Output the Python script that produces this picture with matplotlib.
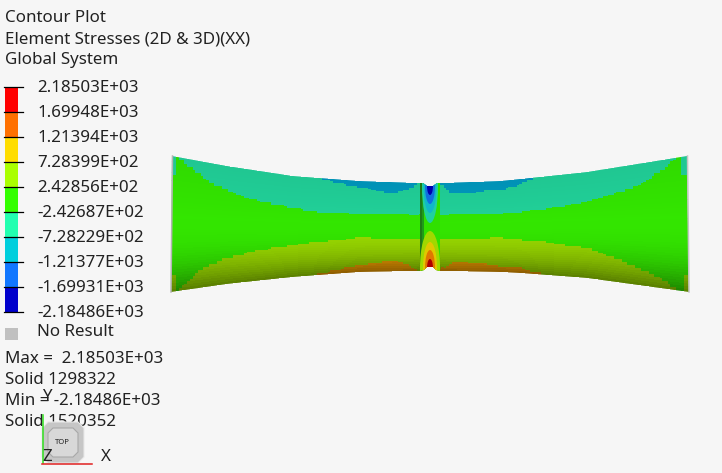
import numpy as np
import matplotlib
matplotlib.use("Agg")
import matplotlib.pyplot as plt
from matplotlib.patches import Ellipse, Polygon, Rectangle

plt.rcParams['font.family'] = ['Noto Sans', 'DejaVu Sans']

header = ["Contour Plot", "Element Stresses (2D & 3D)(XX)", "Global System"]
levels = ["2.18503E+03", "1.69948E+03", "1.21394E+03", "7.28399E+02", "2.42856E+02",
          "-2.42687E+02", "-7.28229E+02", "-1.21377E+03", "-1.69931E+03", "-2.18486E+03"]
legend_colors = ["#ff0000", "#ff7000", "#ffdd00", "#aaff00", "#33ff00",
                 "#22ffb0", "#00cfdd", "#1177ff", "#0000cc"]
footer = ["Max =  2.18503E+03", "Solid 1298322", "Min = -2.18486E+03", "Solid 1520352"]

# outline of the part, screen pixels
top_x = [172, 227, 293, 360, 420, 423, 427, 433, 437, 440, 500, 520, 587, 687]
top_y = [156, 166, 176, 181, 183, 183, 186, 186, 183, 183, 181, 179, 172, 156]
bot_x = [171, 227, 293, 360, 420, 424, 427, 433, 436, 440, 500, 520, 587, 689]
bot_y = [292, 284, 277, 272, 271, 270, 267, 267, 270, 271, 272, 273, 278, 292]

# band boundaries along the part
blue_x = [317, 360, 393, 413, 417, 443, 450, 477, 500, 520, 533]
blue_y = [178, 188, 193, 188, 183, 185, 193, 192, 190, 185, 178]
teal_x = [177, 193, 210, 243, 277, 317, 360, 417, 443, 500, 520, 553, 587, 620, 643, 660, 677, 682]
teal_y = [156, 170, 183, 197, 205, 212, 214, 215, 215, 213, 212, 208, 202, 192, 183, 172, 158, 156]
green_x = [180, 192, 203, 227, 260, 293, 327, 360, 417, 443, 500, 520, 553, 587, 620, 647, 667, 677]
green_y = [289, 278, 268, 258, 250, 245, 241, 238, 240, 240, 238, 240, 243, 248, 260, 272, 282, 290]
olive_x = [317, 360, 393, 413, 417, 443, 453, 477, 500, 520, 543]
olive_y = [274, 265, 260, 267, 271, 268, 262, 262, 266, 268, 274]

# (half width, tip y) of the nested stress plumes at the notch
upper_plume = [(8, 223, "#20d0a0"), (6.5, 213, "#10b8c8"), (5, 204, "#1070e0"), (3, 195, "#0000b0")]
lower_plume = [(10, 231, "#a0d800"), (7, 242, "#e0c800"), (5, 250, "#e07800"), (3, 259, "#b00000")]

band_rgb = {
    "blue": (0.00, 0.60, 0.75),
    "teal": (0.13, 0.82, 0.60),
    "green": (0.20, 0.90, 0.00),
    "olive": (0.60, 0.85, 0.00),
    "orange": (0.95, 0.62, 0.00),
}

TEXT = "#222222"
FS = 12.2


def body_mesh(step=2.7):
    xs = np.arange(171, 690, step)
    n = 50
    tt = np.interp(xs, top_x, top_y)
    bb = np.interp(xs, bot_x, bot_y)
    v = np.linspace(0, 1, n + 1)
    X = np.repeat(xs[None, :], n + 1, axis=0)
    Y = tt[None, :] + (bb - tt)[None, :] * v[:, None]
    return X, Y, v


def band_colors(X, Y, v):
    xc = 0.25 * (X[:-1, :-1] + X[1:, :-1] + X[:-1, 1:] + X[1:, 1:])
    yc = 0.25 * (Y[:-1, :-1] + Y[1:, :-1] + Y[:-1, 1:] + Y[1:, 1:])
    rgb = np.zeros(xc.shape + (3,))
    rgb[:] = band_rgb["green"]

    # left and right of the teal / olive limits
    teal = np.interp(xc, teal_x, teal_y, left=176, right=176)
    rgb[yc < teal] = band_rgb["teal"]
    blue = np.where((xc >= blue_x[0]) & (xc <= blue_x[-1]), np.interp(xc, blue_x, blue_y), 0)
    rgb[yc < blue] = band_rgb["blue"]
    olive = np.where((xc >= green_x[0]) & (xc <= green_x[-1]), np.interp(xc, green_x, green_y), 999)
    olive = np.where((xc < 176) | (xc > 684), 275, olive)
    rgb[yc > olive] = band_rgb["olive"]
    orange = np.where((xc >= olive_x[0]) & (xc <= olive_x[-1]), np.interp(xc, olive_x, olive_y), 999)
    rgb[yc > orange] = band_rgb["orange"]

    # lighting: brightest just above the middle, falls off to the lower edge
    vc = 0.5 * (v[:-1] + v[1:])
    shade = np.where(vc < 0.45, 0.95 + 0.05 * vc / 0.45, 1.0 - 0.42 * ((vc - 0.45) / 0.55) ** 2.5)
    rgb = rgb * shade[:, None, None]
    return np.clip(rgb, 0, 1)


fig = plt.figure(figsize=(7.22, 4.73), dpi=100, facecolor="#f6f6f6")
ax = fig.add_axes([0, 0, 1, 1])
ax.set_xlim(0, 722)
ax.set_ylim(473, 0)
ax.axis("off")

# the part
X, Y, v = body_mesh()
mesh = ax.pcolormesh(X, Y, band_colors(X, Y, v), shading="flat", zorder=1)
body = Polygon(list(zip(top_x, top_y)) + list(zip(bot_x[::-1], bot_y[::-1])),
               closed=True, transform=ax.transData, fc="none", ec="none")
ax.add_patch(body)
mesh.set_clip_path(body)

# notch column with its plumes
notch = [Rectangle((420, 180), 20, 94, fc="#30e000", ec="none", zorder=2),
         Rectangle((420, 180), 2, 94, fc="#1f7a18", ec="none", zorder=2),
         Rectangle((422, 180), 2, 94, fc="#1f9a18", ec="none", zorder=2)]
for hw, tip, col in upper_plume:
    notch.append(Ellipse((430, 186), 2 * hw, 2 * (tip - 186), fc=col, ec="none", zorder=3))
for hw, tip, col in lower_plume:
    notch.append(Ellipse((430, 268), 2 * hw, 2 * (268 - tip), fc=col, ec="none", zorder=3))
for p in notch:
    ax.add_patch(p)
    p.set_clip_path(body)

# grey end faces
ax.plot([172.5, 171], [156, 292], color="#b4b4b4", lw=1.1, zorder=5)
ax.plot([687.5, 689], [156, 292], color="#c4c4c4", lw=1.1, zorder=5)

# header text
for i, s in enumerate(header):
    ax.text(5, 18 + 21 * i, s, fontsize=FS, color=TEXT, va="center", ha="left")

# legend
for i, c in enumerate(legend_colors):
    ax.bar(11.5, 25, width=13, bottom=87 + 25 * i, color=c, zorder=2)
for i, s in enumerate(levels):
    ax.plot([4, 23], [87 + 25 * i] * 2, color="black", lw=0.9, zorder=3)
    ax.text(37, 88 + 25 * i, s, fontsize=FS, color=TEXT, va="center", ha="left")
ax.add_patch(Rectangle((5, 328), 13, 12, fc="#c0c0c0", ec="none"))
ax.text(37, 332, "No Result", fontsize=FS, color=TEXT, va="center", ha="left")
for i, s in enumerate(footer):
    ax.text(5, 359 + 21 * i, s, fontsize=FS, color=TEXT, va="center", ha="left", zorder=2)

# view cube and triad
ax.add_patch(Polygon([(42, 428), (48, 422), (78, 422), (84, 428), (84, 457), (78, 463), (48, 463), (42, 457)],
                     fc="#c6c6c6", ec="#e8e8e8", lw=0.8, zorder=3))
ax.add_patch(Polygon([(53, 428), (73, 428), (78, 433), (78, 452), (73, 457), (53, 457), (48, 452), (48, 433)],
                     fc="#d8d8d8", ec="#a8a8a8", lw=0.8, zorder=4))
ax.text(62.5, 442, "TOP", fontsize=5.5, fontweight="bold", color=TEXT, ha="center", va="center", zorder=5)
ax.plot([42.5, 42.5], [415, 463], color="#30e020", lw=1.1, zorder=6)
ax.plot([42, 92], [463.5, 463.5], color="#e02020", lw=1.1, zorder=6)
ax.text(47, 397, "Y", fontsize=FS, color=TEXT, ha="center", va="center", zorder=6)
ax.text(47, 457, "Z", fontsize=FS, color=TEXT, ha="center", va="center", zorder=6)
ax.text(106, 457, "X", fontsize=FS, color=TEXT, ha="center", va="center", zorder=6)

fig.savefig("out.png", dpi=100, facecolor=fig.get_facecolor())
